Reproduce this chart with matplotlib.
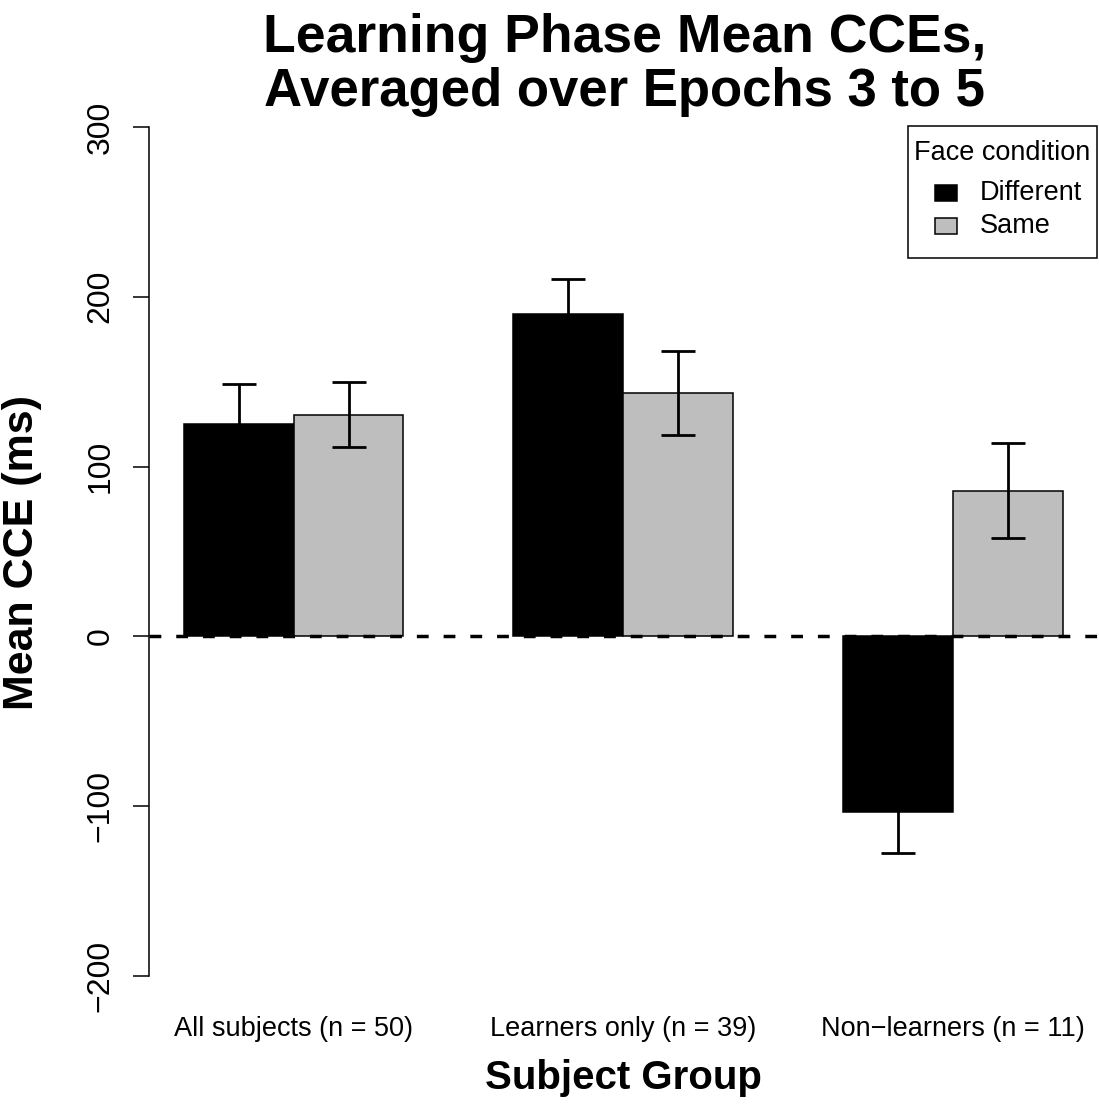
import numpy as np
import matplotlib.pyplot as plt
from matplotlib.patches import Rectangle

plt.rcParams['font.family'] = ['Liberation Sans', 'DejaVu Sans']

# mean CCE (ms) and standard errors per subject group
groups = ['All subjects (n = 50)', 'Learners only (n = 39)', 'Non\u2212learners (n = 11)']
conditions = ['Different', 'Same']
cond_colors = ['black', '#bebebe']
mean_different = [125.3, 189.8, -103.3]
mean_same = [130.6, 143.3, 85.9]
se_different = [23.5, 20.6, 24.0]
se_same = [19.2, 24.8, 27.8]
yticks = [-200, -100, 0, 100, 200, 300]

W, H = 1099, 1109
fig = plt.figure(figsize=(W / 100, H / 100), dpi=100)


def fx(px):
    return px / W


def fy(py):
    return 1 - py / H


ax = fig.add_axes([fx(148.5), fy(976), (1098 - 148.5) / W, (976 - 127) / H])

# R-style beside barplot: bars of width 1, one bar gap between groups
centers = np.array([2, 5, 8])
x_diff = centers - 0.5
x_same = centers + 0.5

ax.bar(x_diff, mean_different, width=1, color=cond_colors[0],
       edgecolor='black', linewidth=1.1, zorder=2)
ax.bar(x_same, mean_same, width=1, color=cond_colors[1],
       edgecolor='black', linewidth=1.1, zorder=2)

err_kw = dict(fmt='none', ecolor='black', elinewidth=2, capsize=12.2,
              capthick=2, zorder=3)
ax.errorbar(x_diff, mean_different, yerr=se_different, **err_kw)
ax.errorbar(x_same, mean_same, yerr=se_same, **err_kw)

ax.axhline(0, color='black', lw=2.5, linestyle=(0, (3.4, 4.3)), zorder=4)

ax.set_xlim(0.68, 9.32)
ax.set_ylim(-200, 300)

for side in ['top', 'right', 'bottom']:
    ax.spines[side].set_visible(False)
ax.spines['left'].set_bounds(-200, 300)
ax.spines['left'].set_linewidth(1.1)

ax.set_yticks(yticks)
ax.tick_params(axis='y', length=11.5, width=1.1, pad=12, labelsize=23)
plt.setp(ax.get_yticklabels(), rotation=90, va='center')

ax.set_xticks(centers, groups)
ax.tick_params(axis='x', length=0, pad=29, labelsize=19.5)

# titles and axis labels
fig.text(fx(625), fy(52), 'Learning Phase Mean CCEs,', ha='center',
         va='baseline', fontsize=38.5, fontweight='bold')
fig.text(fx(625), fy(106), 'Averaged over Epochs 3 to 5', ha='center',
         va='baseline', fontsize=38, fontweight='bold')
fig.text(fx(42), fy(552), 'Mean CCE (ms)', rotation=90, ha='right',
         va='center', fontsize=31, fontweight='bold')
fig.text(fx(623), fy(1089), 'Subject Group', ha='center', va='baseline',
         fontsize=29, fontweight='bold')

# legend box
fig.patches.append(Rectangle((fx(908), fy(258)), (1097 - 908) / W, (258 - 126) / H,
                             transform=fig.transFigure, facecolor='white',
                             edgecolor='black', linewidth=1.1, zorder=5))
fig.text(fx(1002), fy(160), 'Face condition', ha='center', va='baseline',
         fontsize=19.5, zorder=6)
for i, (name, col) in enumerate(zip(conditions, cond_colors)):
    yc = 193 + i * 33
    fig.patches.append(Rectangle((fx(935), fy(yc + 8)), 22 / W, 16 / H,
                                 transform=fig.transFigure, facecolor=col,
                                 edgecolor='black', linewidth=1.1, zorder=6))
    fig.text(fx(980), fy(yc), name, ha='left', va='center',
             fontsize=19.5, zorder=6)

fig.savefig('out.png', dpi=100)
